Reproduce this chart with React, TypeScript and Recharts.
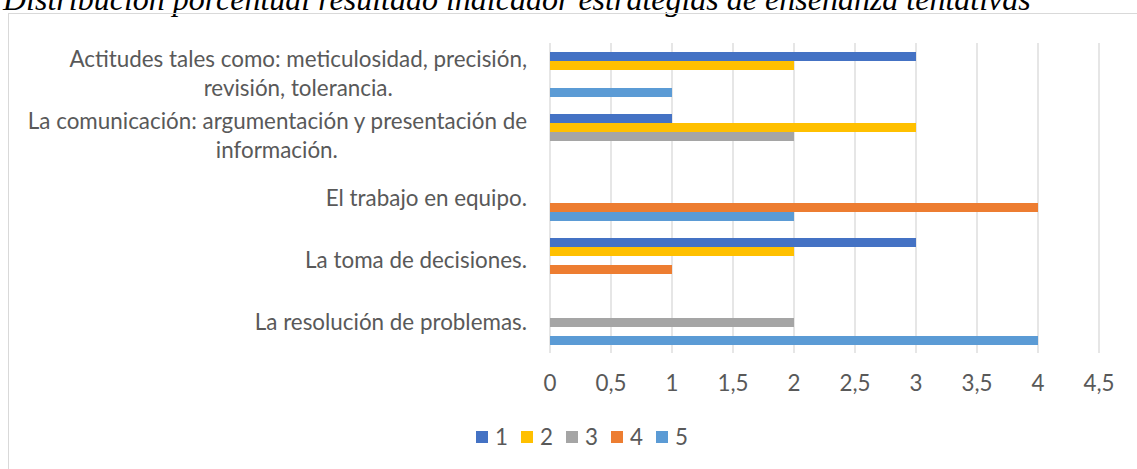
import React from 'react';
import { BarChart, Bar, XAxis, YAxis, CartesianGrid } from 'recharts';

const categories = [
  'Actitudes tales como: meticulosidad, precisión,\nrevisión, tolerancia.',
  'La comunicación: argumentación y presentación de\ninformación.',
  'El trabajo en equipo.',
  'La toma de decisiones.',
  'La resolución de problemas.'
];

const seriesNames = ['1', '2', '3', '4', '5'];
const seriesColors = ['#4472C4', '#FFC000', '#A5A5A5', '#ED7D31', '#5B9BD5'];

const values1 = [3, 1, 0, 3, 0];
const values2 = [2, 3, 0, 2, 0];
const values3 = [0, 2, 0, 0, 2];
const values4 = [0, 0, 4, 1, 0];
const values5 = [1, 0, 2, 0, 4];

const xTicks = [0, 0.5, 1, 1.5, 2, 2.5, 3, 3.5, 4, 4.5];

const title = 'Distribución porcentual resultado indicador estrategias de enseñanza tentativas';

const seriesValues = [values1, values2, values3, values4, values5];

const data = categories.map((name, i) => {
  const row: Record<string, string | number> = { name };
  seriesNames.forEach((s, j) => {
    row['s' + s] = seriesValues[j][i];
  });
  return row;
});

const FONT = 'Lato, sans-serif';
const FONT_SIZE = 22.4;
const TEXT_COLOR = '#595959';

let canvasCtx: CanvasRenderingContext2D | null = null;
const measure = (text: string) => {
  if (!canvasCtx) {
    canvasCtx = document.createElement('canvas').getContext('2d');
  }
  if (!canvasCtx) return text.length * FONT_SIZE * 0.48;
  canvasCtx.font = `${FONT_SIZE}px Lato`;
  return canvasCtx.measureText(text).width;
};

const CategoryTick = (props: any) => {
  const { x, y, payload } = props;
  const lines: string[] = String(payload.value).split('\n');
  const lineHeight = 29;
  const startY = y - ((lines.length - 1) * lineHeight) / 2;
  const firstWidth = measure(lines[0]);
  return (
    <g>
      {lines.map((line, i) => (
        <text
          key={i}
          x={i === 0 ? x : x - firstWidth / 2}
          y={startY + i * lineHeight}
          dy="0.35em"
          textAnchor={i === 0 ? 'end' : 'middle'}
          fill={TEXT_COLOR}
          fontSize={FONT_SIZE}
          fontFamily={FONT}
        >
          {line}
        </text>
      ))}
    </g>
  );
};

export default function App() {
  return (
    <div
      style={{
        position: 'fixed',
        left: 0,
        top: 0,
        width: 1137,
        height: 469,
        overflow: 'hidden',
        background: '#ffffff'
      }}
    >
      <svg width={1137} height={22} style={{ position: 'absolute', left: 0, top: 0 }}>
        <text
          x={3}
          y={10}
          fontFamily="'Liberation Serif', serif"
          fontStyle="italic"
          fontSize={32}
          fill="#000000"
        >
          {title}
        </text>
      </svg>
      <div
        style={{
          position: 'absolute',
          left: 8,
          top: 13,
          width: 1200,
          height: 500,
          border: '1px solid #d9d9d9'
        }}
      />
      <div style={{ position: 'absolute', left: 0, top: 0 }}>
        <BarChart
          width={1137}
          height={469}
          data={data}
          layout="vertical"
          barSize={9}
          barGap={0}
          margin={{ top: 43, right: 38, left: 0, bottom: 0 }}
        >
          <CartesianGrid horizontal={false} stroke="#d9d9d9" strokeWidth={1.3} />
          <XAxis
            type="number"
            domain={[0, 4.5]}
            ticks={xTicks}
            axisLine={false}
            tickLine={false}
            tickSize={0}
            tickMargin={22}
            height={116}
            interval={0}
            tickFormatter={(v: number) => String(v).replace('.', ',')}
            tick={{ fill: TEXT_COLOR, fontSize: FONT_SIZE, fontFamily: FONT }}
          />
          <YAxis
            type="category"
            dataKey="name"
            width={550}
            axisLine={false}
            tickLine={false}
            tickSize={0}
            tickMargin={23}
            interval={0}
            tick={<CategoryTick />}
          />
          {seriesNames.map((s, j) => (
            <Bar
              key={s}
              dataKey={'s' + s}
              name={s}
              fill={seriesColors[j]}
              isAnimationActive={false}
            />
          ))}
        </BarChart>
      </div>
      <div
        style={{
          position: 'absolute',
          left: 476,
          top: 426,
          display: 'flex',
          alignItems: 'center',
          fontFamily: FONT,
          fontSize: FONT_SIZE,
          color: TEXT_COLOR,
          lineHeight: '22px'
        }}
      >
        {seriesNames.map((s, j) => (
          <div key={s} style={{ display: 'flex', alignItems: 'center', width: 45 }}>
            <span
              style={{
                display: 'inline-block',
                width: 12,
                height: 12,
                background: seriesColors[j],
                marginRight: 7
              }}
            />
            <span>{s}</span>
          </div>
        ))}
      </div>
    </div>
  );
}
